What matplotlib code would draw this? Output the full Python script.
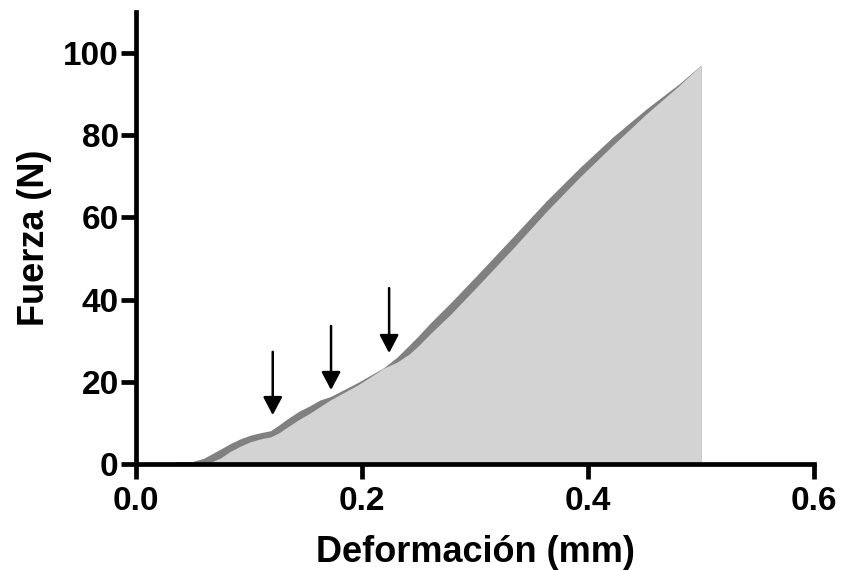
"""Curva fuerza-deformación con flechas en los escalones iniciales."""

import matplotlib
matplotlib.use("Agg")
import matplotlib.pyplot as plt

# curva principal (gris claro)
def_light = [0.050, 0.065, 0.075, 0.083, 0.092, 0.101, 0.110, 0.119, 0.126,
             0.134, 0.144, 0.154, 0.163, 0.172, 0.184, 0.196, 0.208, 0.219,
             0.231, 0.242, 0.250, 0.260, 0.279, 0.304, 0.334, 0.363, 0.393,
             0.422, 0.452, 0.481, 0.500]
f_light = [0.0, 0.3, 1.5, 3.0, 4.3, 5.4, 6.1, 6.6, 7.5,
           9.0, 10.8, 12.4, 14.0, 15.6, 17.4, 19.2, 21.3, 23.3,
           24.8, 26.8, 28.8, 31.6, 36.6, 43.8, 52.6, 61.4, 69.9,
           77.6, 85.3, 92.2, 97.1]

# curva replicada (gris oscuro), visible solo donde supera a la clara
def_dark = [0.035, 0.050, 0.060, 0.072, 0.083, 0.092, 0.101, 0.110, 0.119,
            0.126, 0.134, 0.144, 0.154, 0.163, 0.172, 0.196, 0.219, 0.231,
            0.242, 0.250, 0.260, 0.279, 0.304, 0.334, 0.363, 0.393, 0.422,
            0.452, 0.481, 0.500]
f_dark = [0.6, 0.6, 1.4, 3.2, 4.9, 6.1, 7.0, 7.6, 8.1,
          9.4, 11.0, 12.8, 14.2, 15.6, 16.4, 19.8, 23.4, 26.0,
          29.0, 31.2, 34.2, 39.4, 46.6, 55.4, 64.0, 72.2, 79.6,
          86.5, 92.6, 97.1]

# flechas
arrow_x = [0.121, 0.1726, 0.224]
arrow_top = [27.3, 33.6, 42.8]
arrow_tip = [11.9, 18.0, 27.0]

plt.rcParams['font.family'] = ['Liberation Sans', 'DejaVu Sans']
plt.rcParams['font.weight'] = 'bold'

fig = plt.figure(figsize=(8.41, 5.70), dpi=100)
ax = fig.add_axes([136 / 841, 106 / 570, 678 / 841, 452 / 570])

ax.fill_between(def_dark, 0, f_dark, color='#808080', lw=0, zorder=1)
ax.fill_between(def_light, 0, f_light, color='#d3d3d3', lw=0, zorder=2)

for x, top, tip in zip(arrow_x, arrow_top, arrow_tip):
    ax.annotate('', xy=(x, tip), xytext=(x, top),
                arrowprops=dict(arrowstyle='-|>,head_length=0.55,head_width=0.29',
                                mutation_scale=20, color='black', lw=1.8,
                                shrinkA=0, shrinkB=0))

ax.set_xlim(0, 0.6)
ax.set_ylim(0, 110)
ax.set_xticks([0.0, 0.2, 0.4, 0.6])
ax.set_xticklabels(['0.0', '0.2', '0.4', '0.6'])
ax.set_yticks([0, 20, 40, 60, 80, 100])

for s in ['top', 'right']:
    ax.spines[s].set_visible(False)
for s in ['left', 'bottom']:
    ax.spines[s].set_linewidth(3.4)
    ax.spines[s].set_zorder(3)

ax.tick_params(axis='both', width=3.4, length=10.5, labelsize=24)
ax.tick_params(axis='x', pad=5)
ax.tick_params(axis='y', pad=2)

ax.set_xlabel('Deformación (mm)', fontsize=26, fontweight='bold', labelpad=13)
ax.set_ylabel('Fuerza (N)', fontsize=26, fontweight='bold', labelpad=8)

fig.savefig('out.png', dpi=100)
